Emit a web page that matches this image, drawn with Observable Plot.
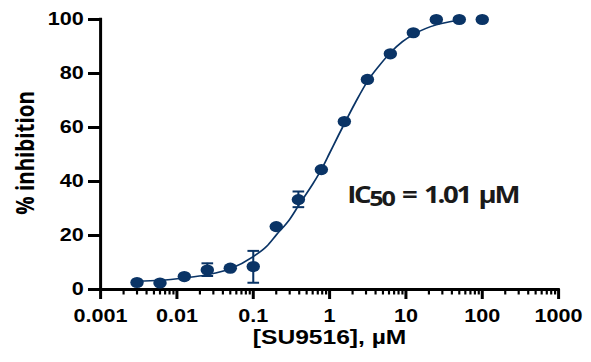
<!DOCTYPE html>
<html>
<head>
<meta charset="utf-8">
<script src="https://cdn.jsdelivr.net/npm/d3@7"></script>
<script src="https://cdn.jsdelivr.net/npm/@observablehq/plot@0.6"></script>
<style>
  html, body { margin: 0; padding: 0; background: #fff; overflow: hidden; }
</style>
</head>
<body>
<div id="chart"></div>
<script>
// ---- data ----
const conc = [0.003, 0.006, 0.0125, 0.025, 0.05, 0.1, 0.2, 0.39, 0.78, 1.56, 3.13, 6.25, 12.5, 25, 50, 100];
const inhibition = [2.6, 2.4, 4.8, 7.2, 7.9, 8.5, 23.3, 33.3, 44.4, 62.2, 77.8, 87.3, 95.1, 100, 100, 100];

const errConc = [0.025, 0.1, 0.39];
const errLow = [5.0, 2.5, 30.5];
const errHigh = [9.7, 14.3, 36.3];

const fitConc = [0.003, 0.006, 0.0125, 0.025, 0.05, 0.1, 0.15, 0.2, 0.3, 0.4, 0.6, 0.8, 1.0, 1.3, 1.6, 2.2, 3.2, 4.5, 6.4, 9, 12.8, 18, 25, 35, 50];
const fitInhibition = [3.1, 3.4, 4.3, 5.5, 7.7, 12.2, 16, 20.2, 26, 31.5, 39, 45, 50.5, 57, 62, 69.5, 77.5, 83, 88, 91.8, 94.6, 96.6, 98, 99, 99.7];

const xTicks = [0.001, 0.01, 0.1, 1, 10, 100, 1000];
const xTickLabels = ["0.001", "0.01", "0.1", "1", "10", "100", "1000"];
const yTicks = [0, 20, 40, 60, 80, 100];
const xLabel = "[SU9516], µM";
const yLabel = "% inhibition";
const icText = "IC50 = 1.01 µM";
const icX = 1.7, icY = 32;

// ---- build tables ----
const points = conc.map((c, i) => ({c, v: inhibition[i]}));
const errs = errConc.map((c, i) => ({c, lo: errLow[i], hi: errHigh[i]}));
const caps = errs.flatMap(d => [{c: d.c, v: d.lo}, {c: d.c, v: d.hi}]);
const fit = fitConc.map((c, i) => ({c, v: fitInhibition[i]}));
const minorTicks = [];
for (const d of xTicks.slice(0, -1)) for (let m = 2; m <= 9; m++) minorTicks.push(+(d * m).toPrecision(3));

const S = 1.2; // horizontal stretch of the original figure
const navy = "#0a3466";
const capSymbol = {draw(ctx, size) { const w = Math.sqrt(size / Math.PI); ctx.moveTo(-w, 0); ctx.lineTo(w, 0); }};
const tickFont = "'Liberation Sans', Arial, sans-serif";
const labelFont = "'Open Sans', 'Noto Sans', sans-serif";

const plot = Plot.plot({
  width: 591 / S,
  height: 362,
  marginLeft: 100 / S,
  marginRight: 33 / S,
  marginTop: 19,
  marginBottom: 73,
  style: {fontFamily: tickFont, fontWeight: "bold", color: "#000", background: "#fff", overflow: "visible"},
  x: {type: "log", domain: [0.001, 1000]},
  y: {domain: [0, 100]},
  marks: [
    Plot.axisX({ticks: minorTicks, tickFormat: () => "", tickSize: 5.5, strokeWidth: 1.8, label: null}),
    Plot.axisX({ticks: xTicks, tickFormat: d => xTickLabels[xTicks.indexOf(d)], tickSize: 10, tickPadding: 10,
      strokeWidth: 2.5, fontSize: 18, fontWeight: "bold", fontFamily: tickFont, label: null}),
    Plot.axisY({ticks: yTicks, tickSize: 10, tickPadding: 4, strokeWidth: 3, fontSize: 18, fontWeight: "bold",
      fontFamily: tickFont, label: null}),
    Plot.ruleY([0], {stroke: "#000", strokeWidth: 3, strokeLinecap: "square"}),
    Plot.ruleX([0.001], {y1: 0, y2: 100, stroke: "#000", strokeWidth: 2.5, strokeLinecap: "square"}),
    Plot.ruleX(errs, {x: "c", y1: "lo", y2: "hi", stroke: navy, strokeWidth: 1.7}),
    Plot.dot(caps, {x: "c", y: "v", symbol: capSymbol, r: 4.85, stroke: navy, strokeWidth: 2, fill: "none"}),
    Plot.line(fit, {x: "c", y: "v", stroke: navy, strokeWidth: 1.5, curve: "monotone-x"}),
    Plot.dot(points, {x: "c", y: "v", r: 5.6, fill: navy, stroke: "none"}),
    Plot.text([yLabel], {text: d => d, frameAnchor: "left", rotate: -90, dx: -(100 - 33) / S, dy: -1.5,
      textAnchor: "middle", lineAnchor: "bottom", fontSize: 20.5, fontWeight: "bold", fontFamily: labelFont, fill: "#000"}),
    Plot.text([xLabel], {text: d => d, frameAnchor: "bottom", dy: 54, lineAnchor: "bottom",
      fontSize: 20.5, fontWeight: "bold", fontFamily: tickFont, fill: "#000"}),
    Plot.text([icText], {text: d => d, x: () => icX, y: () => icY, textAnchor: "start", lineAnchor: "bottom",
      fontSize: 23, fontWeight: "bold", fontFamily: labelFont, fill: "#1a1a1a", className: "ic50"})
  ]
});

plot.style.transform = `scaleX(${S})`;
plot.style.transformOrigin = "0 0";
document.getElementById("chart").appendChild(plot);

// subscript for IC50
const t = plot.querySelector(".ic50 text") || [...plot.querySelectorAll("text")].find(e => e.textContent === icText);
if (t) {
  t.textContent = "";
  const ns = "http://www.w3.org/2000/svg";
  t.appendChild(document.createTextNode("IC"));
  const sub = document.createElementNS(ns, "tspan");
  sub.setAttribute("font-size", "21");
  sub.setAttribute("dy", "3");
  sub.textContent = "50";
  t.appendChild(sub);
  const rest = document.createElementNS(ns, "tspan");
  rest.setAttribute("dy", "-3");
  rest.textContent = " = 1.01 µM";
  t.appendChild(rest);
  const wordSpace = 3;
  t.setAttribute("word-spacing", wordSpace);
  const target = 171 / S;
  const natural = t.getComputedTextLength();
  const n = icText.length;
  t.setAttribute("letter-spacing", ((target - natural) / n).toFixed(2));
}
</script>
</body>
</html>
